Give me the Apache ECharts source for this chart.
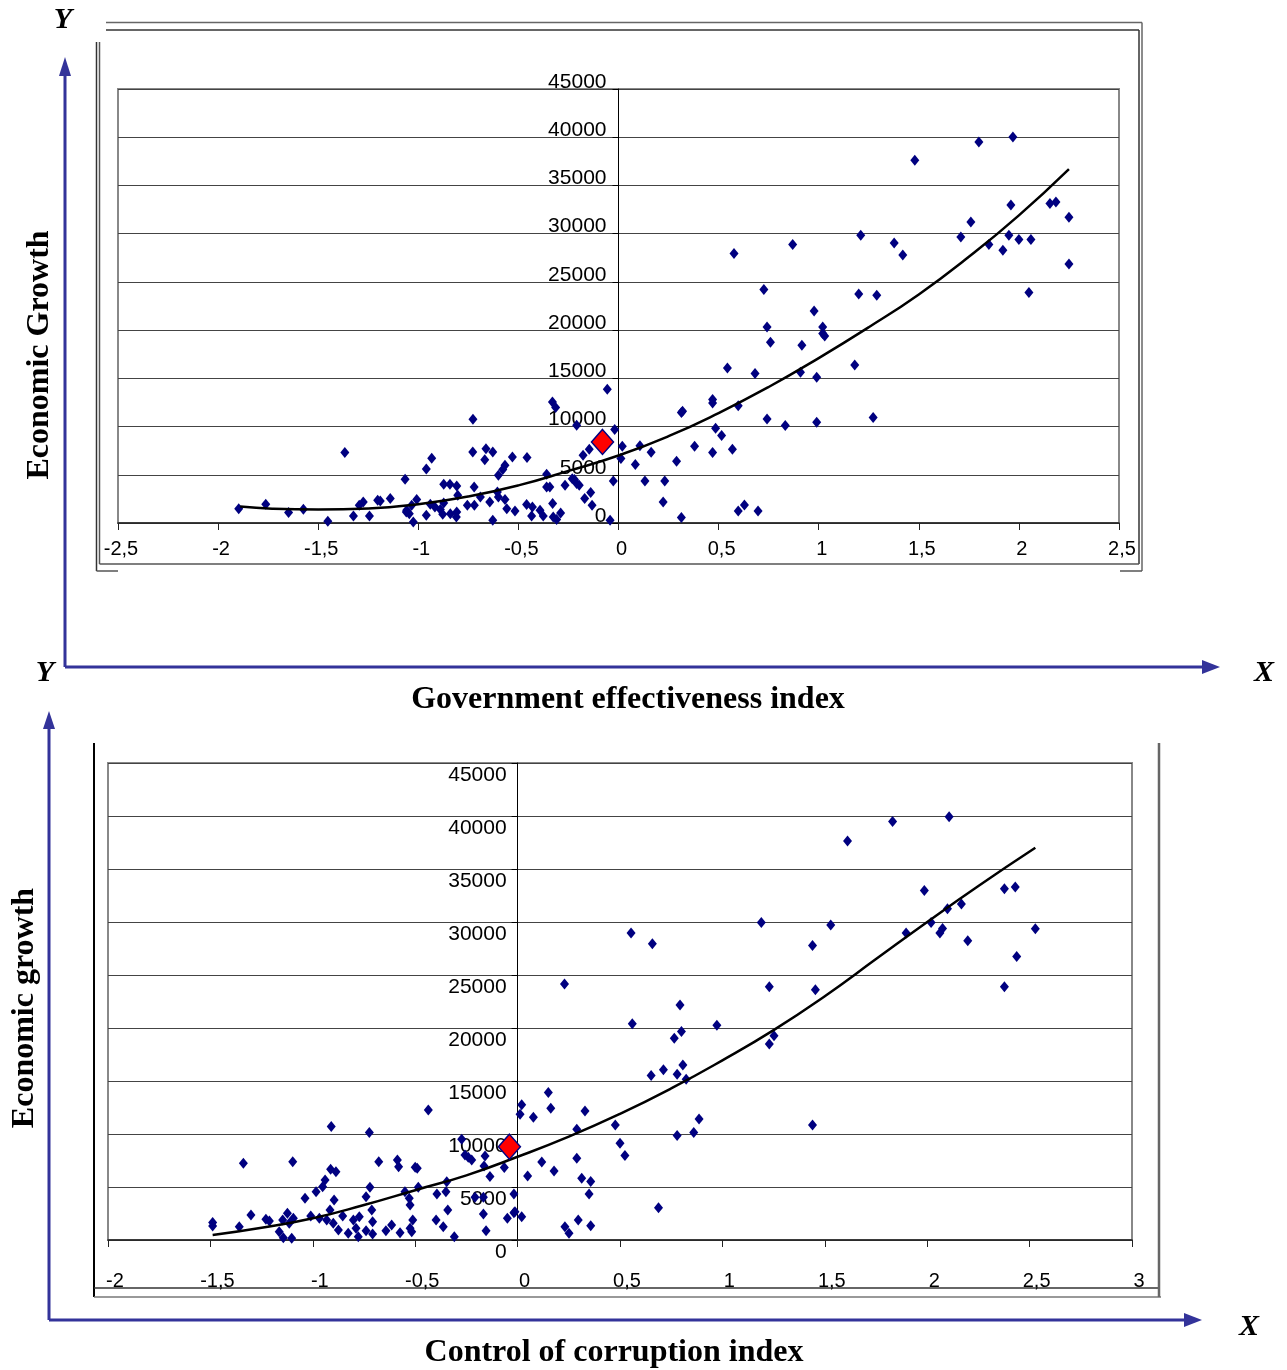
<!DOCTYPE html>
<html>
<head>
<meta charset="utf-8">
<title>Economic growth vs governance indices</title>
<script src="https://cdn.jsdelivr.net/npm/echarts@6/dist/echarts.min.js"></script>
<style>
  html, body { margin: 0; padding: 0; background: #fff; }
  #chart { width: 1287px; height: 1370px; }
</style>
</head>
<body>
<div id="chart"></div>
<script>
// top panel: government effectiveness index vs economic growth
const govPoints = [
  [1.48, 37610], [1.80, 39510], [1.97, 40030], [0.577, 27940], [0.87, 28870], [1.21, 29830],
  [1.377, 29040], [1.42, 27790], [1.71, 29660], [1.76, 31210], [1.85, 28870], [1.92, 28280],
  [1.95, 29830], [1.96, 32980], [2.00, 29390], [2.06, 29390], [2.155, 33120], [2.185, 33290],
  [2.25, 31700], [2.25, 26860], [2.05, 23890], [0.726, 24200], [1.20, 23750], [1.29, 23610],
  [0.977, 21990], [0.742, 20330], [1.02, 20330], [1.02, 19640], [1.03, 19390], [0.759, 18740],
  [0.916, 18430], [0.544, 16070], [0.682, 15490], [1.18, 16380], [0.909, 15630], [0.99, 15110],
  [0.47, 12800], [0.47, 12450], [0.598, 12170], [0.314, 11450], [0.32, 11580], [0.742, 10790],
  [0.833, 10100], [0.99, 10440], [1.272, 10930], [0.485, 9820], [0.515, 9060], [0.38, 7950],
  [0.163, 7330], [0.47, 7300], [0.569, 7640], [0.29, 6400], [0.132, 4360], [0.231, 4360],
  [0.223, 2180], [0.314, 560], [0.598, 1240], [0.629, 1870], [0.697, 1240],
  [-0.056, 13870], [-0.33, 12550], [-0.314, 11970], [-0.727, 10750], [-0.209, 10130], [-0.019, 9690],
  [0.019, 7950], [0.012, 6680], [0.084, 6060], [0.107, 8000], [-0.146, 7640], [-0.177, 7020],
  [-0.728, 7360], [-0.662, 7710], [-0.628, 7360], [-0.668, 6570], [-0.933, 6710], [-0.96, 5600],
  [-0.53, 6850], [-0.457, 6780], [-0.567, 5980], [-0.578, 5540], [-0.60, 4950], [-1.066, 4530],
  [-0.359, 5050], [-0.267, 3910], [-0.231, 4600], [-0.209, 4090], [-0.196, 3910], [-0.22, 4500],
  [-0.026, 4360], [-0.359, 3730], [-0.343, 3730], [-0.721, 3730], [-0.873, 4010], [-0.842, 4010],
  [-0.808, 3840], [-0.803, 2870], [-0.139, 3150], [-0.169, 2530], [-0.132, 1840], [-0.042, 280],
  [-1.14, 2530], [-1.19, 2280], [-1.008, 2430], [-1.033, 1840], [-1.058, 1320], [-1.045, 970],
  [-1.025, 100], [-0.96, 800], [-0.94, 1940], [-0.917, 1660], [-0.89, 1390], [-0.873, 2070],
  [-0.878, 900], [-0.84, 970], [-0.81, 620], [-0.808, 1140], [-0.755, 1840], [-0.72, 1840],
  [-0.69, 2700], [-0.643, 2180], [-0.628, 280], [-0.6, 2700], [-0.605, 3210], [-0.567, 2430],
  [-0.558, 1490], [-0.517, 1240], [-0.459, 1910], [-0.43, 1660], [-0.434, 730], [-0.392, 1320],
  [-0.376, 730], [-0.329, 2010], [-0.326, 620], [-0.309, 350], [-0.289, 1040],
  [-1.897, 1490], [-1.762, 1940], [-1.648, 1080], [-1.574, 1420], [-1.452, 180], [-1.367, 7300],
  [-1.324, 730], [-1.295, 1840], [-1.275, 2180], [-1.244, 730], [-1.203, 2350], [-1.06, 1140]
];
const govHighlight = [[-0.08, 8400]];
const govTrend = [
  [-1.89, 1700], [-1.73, 1490], [-1.5, 1400], [-1.25, 1500], [-1.0, 1950], [-0.75, 2750],
  [-0.5, 3900], [-0.25, 5400], [0, 7000], [0.25, 9000], [0.5, 11400], [0.75, 14100],
  [1.0, 17100], [1.25, 20300], [1.5, 23700], [1.75, 27600], [2.0, 31900], [2.25, 36700]
];

// bottom panel: control of corruption index vs economic growth
const corPoints = [
  [2.107, 39930], [1.831, 39490], [1.611, 37640], [1.986, 32980], [2.377, 33140], [2.43, 33300],
  [2.099, 31250], [2.167, 31690], [1.19, 29960], [1.529, 29710], [2.019, 29960], [2.075, 29390],
  [2.062, 28960], [1.897, 28960], [2.198, 28230], [2.528, 29360], [2.437, 26750], [2.377, 23890],
  [1.44, 27790], [1.229, 23890], [1.454, 23600], [0.658, 27950], [0.793, 22160], [0.973, 20270],
  [0.80, 19670], [1.252, 19260], [0.765, 19040], [0.229, 24140], [0.554, 28960], [0.56, 20390],
  [1.229, 18500], [0.652, 15510], [0.712, 16050], [0.779, 15640], [0.807, 16520], [0.823, 15170],
  [0.886, 11420], [0.86, 10130], [0.779, 9850], [1.44, 10860], [0.688, 3050],
  [0.15, 13910], [0.02, 12750], [0.012, 11860], [0.162, 12430], [0.077, 11580], [0.329, 12180],
  [0.289, 10450], [0.477, 10860], [0.5, 9130], [0.524, 7960], [-0.065, 6830], [0.118, 7360],
  [0.049, 6040], [0.178, 6510], [0.289, 7710], [0.313, 5820], [0.357, 5510], [0.349, 4340],
  [-0.018, 4340], [-0.018, 2580], [-0.05, 2050], [0.02, 2200], [0.231, 1260], [0.251, 630],
  [0.296, 1890], [0.357, 1350],
  [-1.489, 1640], [-1.489, 1320], [-1.339, 7240], [-1.359, 1260], [-1.302, 2360], [-1.229, 1950],
  [-1.212, 1790], [-1.164, 790], [-1.147, 1890], [-1.124, 2520], [-1.115, 1580], [-1.144, 220],
  [-1.103, 160], [-1.098, 7390], [-1.095, 2050], [-1.01, 2270], [-1.038, 3940], [-0.984, 4560],
  [-0.952, 5030], [-0.94, 5660], [-0.913, 6670], [-0.887, 6450], [-0.91, 10700], [-0.896, 3780],
  [-0.968, 2050], [-0.932, 1890], [-0.916, 2830], [-0.9, 1580], [-0.875, 940], [-0.854, 2270],
  [-0.827, 630], [-0.802, 1890], [-0.789, 1100], [-0.778, 310], [-0.773, 2200], [-0.74, 4090],
  [-0.74, 880], [-0.724, 10130], [-0.721, 4970], [-0.712, 2830], [-0.708, 1730], [-0.708, 570],
  [-0.678, 7390], [-0.643, 880], [-0.615, 1420], [-0.587, 7550], [-0.581, 6920], [-0.574, 690],
  [-0.55, 4560], [-0.529, 3940], [-0.525, 3300], [-0.525, 1100], [-0.517, 790], [-0.512, 1890],
  [-0.5, 6860], [-0.49, 6770], [-0.485, 4970], [-0.436, 12270], [-0.398, 1890], [-0.394, 4340],
  [-0.363, 1260], [-0.35, 4560], [-0.346, 5500], [-0.341, 2830], [-0.309, 310], [-0.273, 9510],
  [-0.257, 8020], [-0.241, 7800], [-0.224, 7550], [-0.208, 4030], [-0.167, 4030], [-0.167, 2450],
  [-0.159, 7930], [-0.154, 880], [-0.164, 6990], [-0.135, 5980], [-0.013, 2670]
];
const corHighlight = [[-0.04, 8800]];
const corTrend = [
  [-1.489, 470], [-1.25, 1150], [-1.0, 2050], [-0.75, 3300], [-0.5, 4700], [-0.25, 6100],
  [0, 7850], [0.25, 9750], [0.5, 11900], [0.75, 14300], [1.0, 16950], [1.25, 19800],
  [1.5, 23000], [1.75, 26500], [2.0, 30000], [2.25, 33400], [2.528, 37000]
];

const yTicks = { min: 0, max: 45000, interval: 5000 };

const blue = '#33339a';
const navy = '#000080';
const serif = '"Liberation Serif", "Times New Roman", serif';
const comma = (v) => String(v).replace('.', ',');

function line(x1, y1, x2, y2, stroke, lineWidth) {
  return { type: 'line', silent: true, shape: { x1, y1, x2, y2 }, style: { stroke, lineWidth } };
}
function head(points) {
  return { type: 'polygon', silent: true, shape: { points }, style: { fill: blue } };
}
function label(text, x, y, font, rotation) {
  return {
    type: 'text', silent: true, x, y, rotation: rotation || 0,
    style: { text, x: 0, y: 0, font, fill: '#000', textAlign: 'center', textVerticalAlign: 'middle' }
  };
}

function xAxisOf(gridIndex, min, margin, pad) {
  return {
    type: 'value', gridIndex, min, max: min + 5, interval: 0.5,
    axisLine: { onZero: false, lineStyle: { color: '#222', width: 1.5 } },
    axisTick: { show: true, length: 7, lineStyle: { color: '#222' } },
    axisLabel: {
      color: '#000', fontSize: 20, fontFamily: 'Liberation Sans, Arial', margin,
      padding: [0, 0, 0, pad], formatter: comma, showMinLabel: true, showMaxLabel: true
    },
    splitLine: { show: false }
  };
}
// the y axis sits on x = 0, so it is pulled into the plot by an offset
function yAxisOf(gridIndex, offset, vAlign, lineHeight, margin) {
  return {
    type: 'value', gridIndex, min: yTicks.min, max: yTicks.max, interval: yTicks.interval,
    position: 'left', offset,
    axisLine: { show: true, onZero: false, lineStyle: { color: '#000', width: 1 } },
    axisTick: { show: true, length: 6, lineStyle: { color: '#000' } },
    axisLabel: {
      color: '#000', fontSize: 21, fontFamily: 'Liberation Sans, Arial', margin,
      verticalAlign: vAlign, lineHeight, formatter: (v) => String(v),
      showMinLabel: true, showMaxLabel: true
    },
    splitLine: { show: true, lineStyle: { color: '#444', width: 1 } }
  };
}
function scatter(idx, data) {
  return {
    type: 'scatter', xAxisIndex: idx, yAxisIndex: idx, data,
    symbol: 'diamond', symbolSize: [9, 11],
    itemStyle: { color: navy, opacity: 1 }, z: 3
  };
}
function trend(idx, data) {
  return {
    type: 'line', xAxisIndex: idx, yAxisIndex: idx, data, smooth: 0.5,
    showSymbol: false, lineStyle: { color: '#000', width: 2.5 }, z: 4
  };
}
function marker(idx, data) {
  return {
    type: 'scatter', xAxisIndex: idx, yAxisIndex: idx, data,
    symbol: 'diamond', symbolSize: [22, 25],
    itemStyle: { color: '#ff0000', borderColor: navy, borderWidth: 1.5, opacity: 1 }, z: 5
  };
}

const chart = echarts.init(document.getElementById('chart'));
chart.setOption({
  animation: false,
  backgroundColor: '#fff',
  grid: [
    { left: 118, top: 89, width: 1001, height: 434, show: true, borderColor: '#888', borderWidth: 2 },
    { left: 108, top: 763, width: 1024, height: 477, show: true, borderColor: '#888', borderWidth: 2 }
  ],
  xAxis: [xAxisOf(0, -2.5, 16, 6), xAxisOf(1, -2, 31, 14)],
  yAxis: [
    yAxisOf(0, -500.5, 'bottom', 14, 12),
    yAxisOf(1, -409.6, 'top', 24, 11)
  ],
  series: [
    scatter(0, govPoints), trend(0, govTrend), marker(0, govHighlight),
    scatter(1, corPoints), trend(1, corTrend), marker(1, corHighlight)
  ],
  graphic: [
    // frame around the top chart
    line(106, 22.5, 1142, 22.5, '#666', 1.5),
    line(106, 30, 1139, 30, '#333', 1.5),
    line(1142, 22.5, 1142, 571, '#666', 1.5),
    line(1139, 30, 1139, 564, '#333', 1.5),
    line(96.5, 42, 96.5, 571, '#333', 1.5),
    line(99.5, 42, 99.5, 564, '#555', 1.5),
    line(99.5, 564, 1139, 564, '#555', 1.5),
    line(96.5, 571, 118, 571, '#555', 1.5),
    line(1120, 571, 1142, 571, '#555', 1.5),
    // frame around the bottom chart
    line(94, 743, 94, 1297, '#000', 2),
    line(94, 1288, 1158, 1288, '#333', 1.5),
    line(94, 1297, 1161, 1297, '#777', 1.5),
    line(1159, 743, 1159, 1297, '#666', 2.5),
    // blue arrows
    line(65, 667, 65, 72, blue, 3), head([[65, 57], [59, 76], [71, 76]]),
    line(65, 667, 1204, 667, blue, 3), head([[1220, 667], [1202, 660], [1202, 674]]),
    line(49, 1320, 49, 726, blue, 3), head([[49, 711], [43, 729], [55, 729]]),
    line(49, 1320, 1186, 1320, blue, 3), head([[1202, 1320], [1184, 1313], [1184, 1327]]),
    // axis letters and titles
    label('Y', 63, 20, 'italic bold 30px ' + serif),
    label('X', 1264, 673, 'italic bold 30px ' + serif),
    label('Y', 45, 673, 'italic bold 30px ' + serif),
    label('X', 1249, 1327, 'italic bold 30px ' + serif),
    label('Government effectiveness index', 628, 700, 'bold 32px ' + serif),
    label('Control of corruption index', 614, 1353, 'bold 32px ' + serif),
    label('Economic Growth', 40, 355, 'bold 32px ' + serif, Math.PI / 2),
    label('Economic growth', 25, 1008, 'bold 32px ' + serif, Math.PI / 2)
  ]
});
window.addEventListener('resize', () => chart.resize());
</script>
</body>
</html>
